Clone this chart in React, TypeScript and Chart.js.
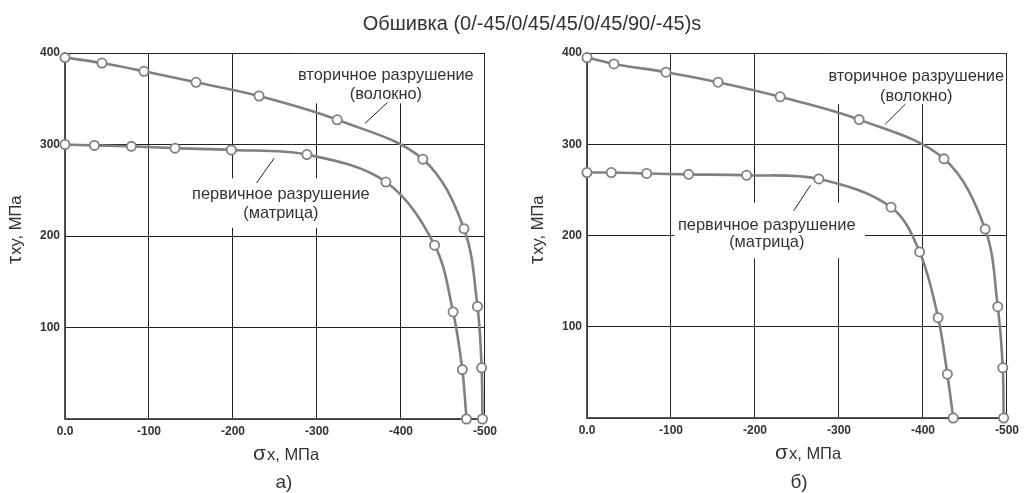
import React, { useEffect, useRef } from "react";
import { Chart, registerables } from "chart.js";

Chart.register(...registerables);

// ---- data (σx, МПа ; τxy, МПа) ----
const sigmaFiberA = [0, -44, -94, -156, -231, -324, -426, -475, -491, -496, -497];
const tauFiberA = [395, 389, 380, 368, 353, 327, 284, 208, 123, 56, 0];
const sigmaMatrixA = [0, -35, -79, -131, -198, -288, -382, -440, -462, -473, -478];
const tauMatrixA = [300, 299, 298, 296, 294, 289, 259, 190, 117, 54, 0];

const sigmaFiberB = [0, -32, -94, -156, -230, -324, -425, -474, -489, -495, -496];
const tauFiberB = [395, 388, 379, 368, 352, 327, 284, 207, 122, 55, 0];
const sigmaMatrixB = [0, -29, -71, -121, -190, -276, -362, -396, -418, -429, -436];
const tauMatrixB = [269, 269, 268, 267, 266, 262, 231, 182, 110, 48, 0];

const xTickValues = [0, -100, -200, -300, -400, -500];
const yTickValues = [100, 200, 300, 400];

const titleText = "Обшивка (0/-45/0/45/45/0/45/90/-45)s";
const xTitleSymbol = "σ";
const xTitleRest = "x, МПа";
const yTitleSymbol = "τ";
const yTitleRest = "xy, МПа";
const fiberLabel = ["вторичное разрушение", "(волокно)"];
const matrixLabel = ["первичное разрушение", "(матрица)"];

const FONT = 'Arial, "Liberation Sans", sans-serif';
const TEXT = "#333333";
const CURVE = "#808080";

type Note = {
  lines: string[];
  cx: number; // data x of text centre
  cy: number[]; // data y for each line
  box: [number, number, number, number]; // x1, y1, x2, y2 data
  leader: [number, number, number, number];
};

const notesA: Note[] = [
  { lines: fiberLabel, cx: -382, cy: [375, 355], box: [-272, 399, -491, 345], leader: [-384, 346, -357, 323] },
  { lines: matrixLabel, cx: -257, cy: [245, 225], box: [-142, 263, -372, 209], leader: [-249, 285, -228, 258] },
];
const notesB: Note[] = [
  { lines: fiberLabel, cx: -392, cy: [374, 352], box: [-285, 399, -498, 344], leader: [-379, 344, -355, 322] },
  { lines: matrixLabel, cx: -214, cy: [211, 192], box: [-104, 236, -331, 175], leader: [-266, 255, -246, 227] },
];

function makeNotesPlugin(notes: Note[]) {
  return {
    id: "notes",
    beforeDatasetsDraw(chart: any) {
      const { ctx } = chart;
      const xs = chart.scales.x;
      const ys = chart.scales.y;
      ctx.save();
      for (const n of notes) {
        const x1 = xs.getPixelForValue(n.box[0]);
        const y1 = ys.getPixelForValue(n.box[1]);
        const x2 = xs.getPixelForValue(n.box[2]);
        const y2 = ys.getPixelForValue(n.box[3]);
        ctx.fillStyle = "#ffffff";
        ctx.fillRect(Math.min(x1, x2), Math.min(y1, y2), Math.abs(x2 - x1), Math.abs(y2 - y1));
        ctx.fillStyle = TEXT;
        ctx.font = `16.4px ${FONT}`;
        ctx.textAlign = "center";
        ctx.textBaseline = "middle";
        n.lines.forEach((t, i) => {
          ctx.fillText(t, xs.getPixelForValue(n.cx), ys.getPixelForValue(n.cy[i]));
        });
        ctx.strokeStyle = "#222222";
        ctx.lineWidth = 1;
        ctx.beginPath();
        ctx.moveTo(xs.getPixelForValue(n.leader[0]), ys.getPixelForValue(n.leader[1]));
        ctx.lineTo(xs.getPixelForValue(n.leader[2]), ys.getPixelForValue(n.leader[3]));
        ctx.stroke();
      }
      ctx.restore();
    },
    afterDraw(chart: any) {
      const { ctx, chartArea } = chart;
      ctx.save();
      ctx.fillStyle = TEXT;
      ctx.textBaseline = "alphabetic";
      ctx.textAlign = "left";
      // x axis title
      let x = chartArea.left + 188;
      const base = chartArea.bottom + 41;
      ctx.font = `21px ${FONT}`;
      ctx.fillText(xTitleSymbol, x, base);
      x += ctx.measureText(xTitleSymbol).width + 1;
      ctx.font = `16.5px ${FONT}`;
      ctx.fillText(xTitleRest, x, base);
      // y axis title (rotated)
      ctx.translate(chartArea.left - 44, chartArea.top + 211);
      ctx.rotate(-Math.PI / 2);
      let y = 0;
      ctx.font = `21px ${FONT}`;
      ctx.fillText(yTitleSymbol, y, 0);
      y += ctx.measureText(yTitleSymbol).width + 1;
      ctx.font = `16.5px ${FONT}`;
      ctx.fillText(yTitleRest, y, 0);
      ctx.restore();
    },
  };
}

function series(xs: number[], ys: number[]) {
  return xs.map((x, i) => ({ x, y: ys[i] }));
}

function makeConfig(fx: number[], fy: number[], mx: number[], my: number[], notes: Note[], bottomPad: number): any {
  const ds = (data: any[]) => ({
    data,
    borderColor: CURVE,
    borderWidth: 2.6,
    pointRadius: 4.6,
    pointHoverRadius: 4.6,
    pointBackgroundColor: "#ffffff",
    pointBorderColor: CURVE,
    pointBorderWidth: 1.8,
    tension: 0.35,
    clip: false,
    fill: false,
  });
  return {
    type: "line",
    data: { datasets: [ds(series(fx, fy)), ds(series(mx, my))] },
    options: {
      responsive: false,
      animation: false,
      events: [],
      layout: { padding: { left: 0, right: 14, top: 53, bottom: bottomPad } },
      plugins: { legend: { display: false }, tooltip: { enabled: false }, title: { display: false } },
      scales: {
        x: {
          type: "linear",
          min: -500,
          max: 0,
          reverse: true,
          afterBuildTicks: (s: any) => {
            s.ticks = xTickValues.map((v) => ({ value: v }));
          },
          afterFit: (s: any) => {
            s.height = 43;
          },
          ticks: {
            color: TEXT,
            font: { family: FONT, size: 12, weight: "bold" },
            padding: 5,
            maxRotation: 0,
            autoSkip: false,
            callback: (v: number) => (v === 0 ? "0.0" : String(v)),
          },
          grid: { color: "#222222", lineWidth: 1, drawTicks: false },
          border: { color: "#555555", width: 1.5 },
          title: { display: false },
        },
        y: {
          type: "linear",
          min: 0,
          max: 400,
          afterBuildTicks: (s: any) => {
            s.ticks = [0, ...yTickValues].map((v) => ({ value: v }));
          },
          afterFit: (s: any) => {
            s.width = 65;
          },
          ticks: {
            color: TEXT,
            font: { family: FONT, size: 12, weight: "bold" },
            padding: 5,
            autoSkip: false,
            callback: (v: number) => (v === 0 ? "" : String(v)),
          },
          grid: { color: "#222222", lineWidth: 1, drawTicks: false },
          border: { color: "#555555", width: 1.5 },
          title: { display: false },
        },
      },
    },
    plugins: [makeNotesPlugin(notes)],
  };
}

function Panel(props: { left: number; cfg: () => any }) {
  const ref = useRef<HTMLCanvasElement | null>(null);
  useEffect(() => {
    if (!ref.current) return;
    const chart = new Chart(ref.current, props.cfg());
    return () => chart.destroy();
  }, []);
  return (
    <canvas
      ref={ref}
      width={502}
      height={493}
      style={{ position: "absolute", left: props.left, top: 0, width: 502, height: 493 }}
    />
  );
}

export default function App() {
  return (
    <div style={{ position: "absolute", left: 0, top: 0, width: 1024, height: 493, background: "#fff", overflow: "hidden", fontFamily: FONT }}>
      <Panel left={0} cfg={() => makeConfig(sigmaFiberA, tauFiberA, sigmaMatrixA, tauMatrixA, notesA, 31)} />
      <Panel left={522} cfg={() => makeConfig(sigmaFiberB, tauFiberB, sigmaMatrixB, tauMatrixB, notesB, 32)} />
      <div style={{ position: "absolute", left: 0, width: 1064, top: 9, textAlign: "center", fontSize: 20, color: TEXT, lineHeight: "28px" }}>
        {titleText}
      </div>
      <div style={{ position: "absolute", left: 234, width: 100, top: 469, textAlign: "center", fontSize: 19, color: TEXT, lineHeight: "26px" }}>
        а)
      </div>
      <div style={{ position: "absolute", left: 749, width: 100, top: 469, textAlign: "center", fontSize: 19, color: TEXT, lineHeight: "26px" }}>
        б)
      </div>
    </div>
  );
}
